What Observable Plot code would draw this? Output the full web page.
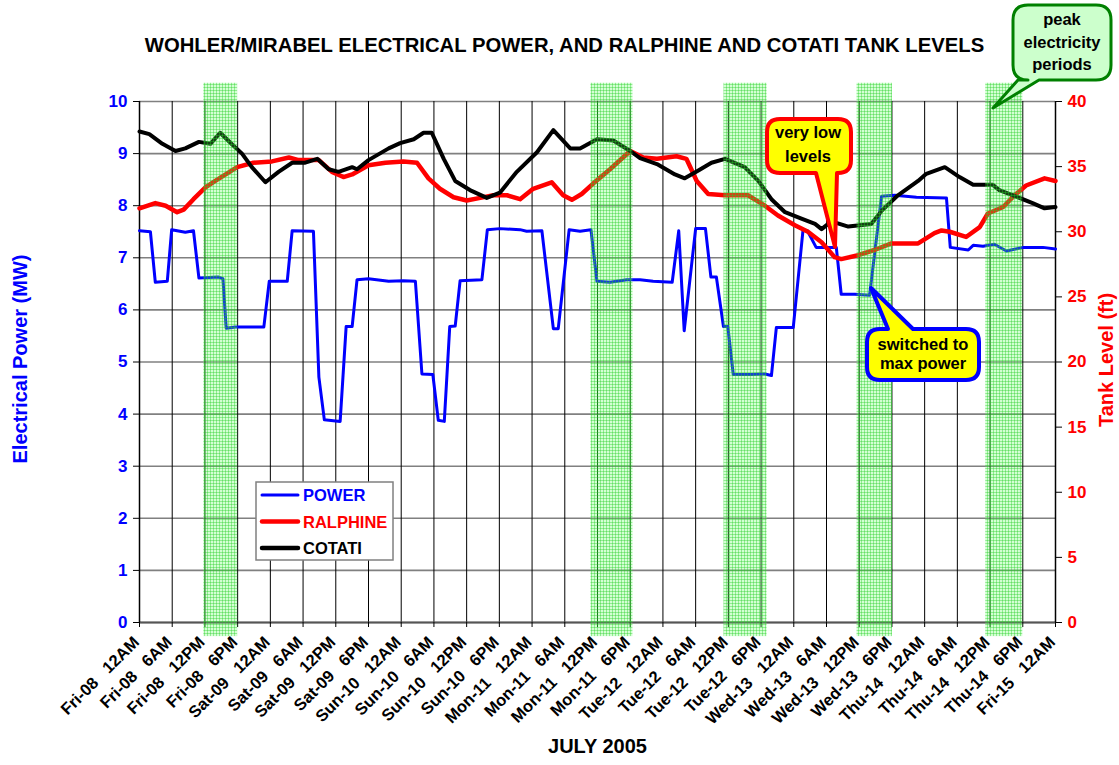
<!DOCTYPE html>
<html><head><meta charset="utf-8">
<script src="https://cdn.jsdelivr.net/npm/d3@7"></script>
<script src="https://cdn.jsdelivr.net/npm/@observablehq/plot@0.6"></script>
<style>body{margin:0;background:#fff;} svg{font-family:"Liberation Sans",Arial,sans-serif;}</style>
</head><body><div id="chart"></div>
<script>
// ---- data (hours since Fri-08 12AM) ----
const powerHours = [0,2,2.9,5.1,5.9,8.4,9.9,10.9,14.5,15.3,15.9,17.6,22.8,23.8,27.1,28,31.9,32.9,33.9,36.8,37.9,39,39.9,42,45.7,48.4,50.6,51.8,53.8,54.8,55.9,56.9,57.9,58.8,62.8,63.8,66.1,69.8,71,73.8,75.9,76.8,78.8,80.8,82.8,83.9,86.3,89.4,91.8,94.2,97.7,98.9,99.9,102,103.8,104.8,105.8,107.1,107.9,108.9,112.2,114.7,115.9,116.8,119.9,121.7,122.5,124.1,127.8,128.7,131.2,133.9,136.1,138.5,142.5,148,148.7,152,152.9,154.7,156.8,159,162,165.7,168];
const powerMW = [7.52,7.50,6.53,6.55,7.54,7.49,7.52,6.61,6.63,6.60,5.65,5.67,5.67,6.55,6.55,7.52,7.51,4.71,3.89,3.86,5.68,5.68,6.58,6.60,6.55,6.56,6.55,4.77,4.76,3.88,3.86,5.68,5.69,6.56,6.58,7.54,7.56,7.54,7.51,7.52,5.64,5.64,7.54,7.51,7.54,6.55,6.53,6.58,6.58,6.55,6.53,7.52,5.60,7.56,7.56,6.63,6.63,5.68,5.68,4.76,4.76,4.77,4.74,5.66,5.66,7.54,7.52,7.20,7.20,6.30,6.30,6.28,8.18,8.20,8.16,8.15,7.20,7.15,7.24,7.22,7.26,7.13,7.20,7.20,7.17];
const ralphineHours = [0,2.9,4.8,6.9,8.1,9.9,12.1,13.9,15.8,17.9,20.9,24.3,27.4,29.2,32.9,35.3,37.4,39,42,45.1,48.4,50.9,53,55.1,57.6,60,62.5,64.9,67.4,69.8,72.2,75.6,77.7,79.3,81.1,83.2,86.3,90,92.4,94.9,98.5,100.3,102.2,104.3,107.4,111.6,114.7,117.1,120.2,122.6,125.1,127.5,128.7,131.8,134.8,137.9,142.8,145.8,147.1,148.6,151.6,154.1,155.6,158.4,160.5,162.6,166,168];
const ralphineFt = [31.8,32.2,32.0,31.5,31.7,32.5,33.4,33.9,34.4,34.96,35.3,35.4,35.7,35.5,35.5,34.6,34.2,34.4,35.1,35.3,35.4,35.3,34.1,33.3,32.65,32.4,32.6,32.8,32.8,32.5,33.3,33.8,32.8,32.45,32.9,33.7,34.8,36.2,35.7,35.6,35.8,35.6,33.9,32.9,32.8,32.8,32.0,31.25,30.5,30.0,29.2,28.05,27.9,28.2,28.6,29.1,29.1,29.9,30.1,30.0,29.6,30.35,31.4,31.9,32.8,33.55,34.1,33.9];
const cotatiHours = [0,1.8,4.2,6.6,8.4,10.9,13,14.8,17,18.8,20.6,23.1,25.5,28,30.4,32.6,34.7,36.5,39,39.9,42,45.7,47.8,50.3,52.1,53.6,55.8,57.9,60.6,63.7,66.1,69.2,72.9,75.9,79,80.8,83.9,86.9,90,91.8,94.9,98.2,100,102.5,104.9,107.4,111,113.5,115.9,118.4,121.4,123.9,125.1,126.9,130,134.2,136.1,139.1,142.8,144.3,147.7,150.4,152.9,156.5,157.7,160.2,163.8,166,168];
const cotatiFt = [37.7,37.5,36.75,36.2,36.4,36.9,36.75,37.6,36.7,36.0,34.96,33.8,34.6,35.3,35.3,35.6,34.8,34.6,34.96,34.8,35.5,36.4,36.8,37.1,37.6,37.6,35.6,33.9,33.2,32.6,33.0,34.6,36.1,37.8,36.4,36.4,37.1,37.0,36.2,35.65,35.2,34.4,34.1,34.7,35.3,35.6,34.96,33.9,32.5,31.5,31.0,30.6,30.2,30.8,30.4,30.6,31.6,32.8,33.9,34.45,34.96,34.2,33.6,33.6,33.2,32.8,32.2,31.8,31.9];
const tickHours = d3.range(0, 169, 6);
const tickLabels = ["Fri-08  12AM","Fri-08  6AM","Fri-08  12PM","Fri-08  6PM","Sat-09  12AM","Sat-09  6AM","Sat-09  12PM","Sat-09  6PM","Sun-10  12AM","Sun-10  6AM","Sun-10  12PM","Sun-10  6PM","Mon-11  12AM","Mon-11  6AM","Mon-11  12PM","Mon-11  6PM","Tue-12  12AM","Tue-12  6AM","Tue-12  12PM","Tue-12  6PM","Wed-13  12AM","Wed-13  6AM","Wed-13  12PM","Wed-13  6PM","Thu-14  12AM","Thu-14  6AM","Thu-14  12PM","Thu-14  6PM","Fri-15  12AM"];
const peakStart = [11.8, 82.8, 107.2, 131.6, 155.2];
const peakEnd = [18.0, 90.5, 115.1, 138.1, 162.0];
const mwTicks = d3.range(0, 11, 1);
const ftTicks = d3.range(0, 41, 5);
const seriesNames = ["POWER", "RALPHINE", "COTATI"];
const seriesColors = ["#0000ff", "#ff0000", "#000000"];

// ---- tables ----
const power = powerHours.map((h, i) => ({h, v: powerMW[i]}));
const ralphine = ralphineHours.map((h, i) => ({h, v: ralphineFt[i] / 4}));
const cotati = cotatiHours.map((h, i) => ({h, v: cotatiFt[i] / 4}));
const peaks = peakStart.map((s, i) => ({s, e: peakEnd[i]}));
const ticks = tickHours.map((h, i) => ({h, label: tickLabels[i].replace("  ", "\u00a0\u00a0 ")}));
const legend = seriesNames.map((name, i) => ({name, color: seriesColors[i], row: i}));

const font = `"Liberation Sans", Arial, sans-serif`;
const plot = Plot.plot({
  width: 1119, height: 765,
  marginLeft: 139, marginRight: 64, marginTop: 101, marginBottom: 143,
  x: {domain: [0, 168], axis: null},
  y: {domain: [0, 10], axis: null},
  style: {fontFamily: font, background: "white", overflow: "visible"},
  marks: [
    Plot.gridY(mwTicks, {stroke: "#808080", strokeOpacity: 1, strokeWidth: 1.6}),
    Plot.gridX(tickHours, {stroke: "#000", strokeOpacity: 1, strokeWidth: 1}),
    Plot.ruleY([0], {stroke: "#555", strokeWidth: 2}),
    Plot.ruleX([0], {stroke: "#000", strokeWidth: 1.5}),
    Plot.ruleX([168], {stroke: "#000", strokeWidth: 1.5}),
    Plot.axisY(mwTicks, {anchor: "left", tickSize: 6, tickPadding: 6, tickFormat: d => String(d), fill: "#0000ff", stroke: "#000", fontSize: 17, fontWeight: "bold", label: null}),
    Plot.axisY(ftTicks.map(d => d / 4), {anchor: "right", tickSize: 6, tickPadding: 6, tickFormat: d => String(d * 4), fill: "#ff0000", stroke: "#000", fontSize: 17, fontWeight: "bold", label: null}),
    Plot.axisX(tickHours, {anchor: "bottom", tickSize: 5, tickFormat: () => "", stroke: "#000", label: null}),
    Plot.line(power, {x: "h", y: "v", stroke: seriesColors[0], strokeWidth: 3, strokeLinejoin: "round"}),
    Plot.line(ralphine, {x: "h", y: "v", stroke: seriesColors[1], strokeWidth: 4.5, strokeLinejoin: "round"}),
    Plot.line(cotati, {x: "h", y: "v", stroke: seriesColors[2], strokeWidth: 4, strokeLinejoin: "round"}),
    Plot.rect(peaks, {x1: "s", x2: "e", y1: -0.27, y2: 10.35, fill: "url(#peakPattern)"}),
    Plot.text(ticks, {x: "h", text: "label", frameAnchor: "bottom", rotate: -45, textAnchor: "end", lineAnchor: "middle", dx: -3, dy: 17, fontSize: 16.5, fontWeight: "bold", fill: "#000"}),
    Plot.text(["WOHLER/MIRABEL ELECTRICAL POWER, AND RALPHINE AND COTATI TANK LEVELS"], {frameAnchor: "top", textAnchor: "middle", dx: -33, dy: -64, fontSize: 20.3, fontWeight: "bold", fill: "#000"}),
    Plot.text(["JULY 2005"], {frameAnchor: "bottom", textAnchor: "middle", dy: 130, fontSize: 20, fontWeight: "bold", fill: "#000"}),
    Plot.text(["Electrical Power (MW)"], {frameAnchor: "left", textAnchor: "middle", rotate: -90, dx: -119, dy: -3, fontSize: 20, fontWeight: "bold", fill: "#0000ff"}),
    Plot.text(["Tank Level (ft)"], {frameAnchor: "right", textAnchor: "middle", rotate: -90, dx: 51, dy: -2, fontSize: 20, fontWeight: "bold", fill: "#ff0000"})
  ]
});
document.getElementById("chart").appendChild(plot);

const svg = d3.select(plot);
// hatched green fill used by the peak-period bands
const defs = svg.insert("defs", ":first-child");
const pat = defs.append("pattern").attr("id", "peakPattern").attr("patternUnits", "userSpaceOnUse")
  .attr("width", 3).attr("height", 3);
pat.append("rect").attr("width", 3).attr("height", 3).attr("fill", "#55ff55").attr("fill-opacity", 0.26);
pat.append("rect").attr("width", 3).attr("height", 1).attr("fill", "#22cc22").attr("fill-opacity", 0.38);
pat.append("rect").attr("width", 1).attr("height", 3).attr("fill", "#22cc22").attr("fill-opacity", 0.38);

// ---- legend & callouts ----
const lg = svg.append("g").attr("text-anchor", "start");
lg.append("rect").attr("x", 256).attr("y", 482).attr("width", 137).attr("height", 78)
  .attr("fill", "#fff").attr("stroke", "#808080").attr("stroke-width", 1.5);
legend.forEach(d => {
  const y = 495 + d.row * 26.5;
  lg.append("line").attr("x1", 262).attr("x2", 298).attr("y1", y).attr("y2", y)
    .attr("stroke", d.color).attr("stroke-width", d.row === 0 ? 3 : 4.5).attr("stroke-linecap", "round");
  lg.append("text").attr("x", 303).attr("y", y + 6).attr("text-anchor", "start").text(d.name)
    .attr("fill", d.color).attr("font-size", 16.5).attr("font-weight", "bold");
});

function calloutPath(x1, y1, x2, y2, r, side, b0, b1, tx, ty) {
  let p = `M${x1 + r},${y1}`;
  if (side === "top") p += `L${b0},${y1}L${tx},${ty}L${b1},${y1}`;
  p += `L${x2 - r},${y1}Q${x2},${y1} ${x2},${y1 + r}L${x2},${y2 - r}Q${x2},${y2} ${x2 - r},${y2}`;
  if (side === "bottom") p += `L${b1},${y2}L${tx},${ty}L${b0},${y2}`;
  p += `L${x1 + r},${y2}Q${x1},${y2} ${x1},${y2 - r}L${x1},${y1 + r}Q${x1},${y1} ${x1 + r},${y1}Z`;
  return p;
}
const callouts = [
  {x1: 767, y1: 119, x2: 851, y2: 173, r: 13, side: "bottom", b0: 816, b1: 837, tx: 835, ty: 247,
   fill: "#ffff00", stroke: "#ff0000", sw: 4, lines: ["very low", "levels"], cx: 808, base: [138, 162]},
  {x1: 867, y1: 329, x2: 979, y2: 380, r: 13, side: "top", b0: 888, b1: 913, tx: 871, ty: 288,
   fill: "#ffff00", stroke: "#0000ff", sw: 4, lines: ["switched to", "max power"], cx: 923, base: [350, 369]},
  {x1: 1013, y1: 5, x2: 1111, y2: 80, r: 15, side: "bottom", b0: 1018, b1: 1039, tx: 993, ty: 108,
   fill: "#ccffcc", stroke: "#008000", sw: 3, lines: ["peak", "electricity", "periods"], cx: 1062, base: [25, 48, 70]}
];
callouts.forEach(c => {
  svg.append("path").attr("d", calloutPath(c.x1, c.y1, c.x2, c.y2, c.r, c.side, c.b0, c.b1, c.tx, c.ty))
    .attr("fill", c.fill).attr("stroke", c.stroke).attr("stroke-width", c.sw).attr("stroke-linejoin", "round");
  c.lines.forEach((t, i) => svg.append("text").attr("x", c.cx).attr("y", c.base[i]).attr("text-anchor", "middle")
    .attr("font-size", 16.5).attr("font-weight", "bold").attr("fill", "#000").text(t));
});
</script></body></html>
